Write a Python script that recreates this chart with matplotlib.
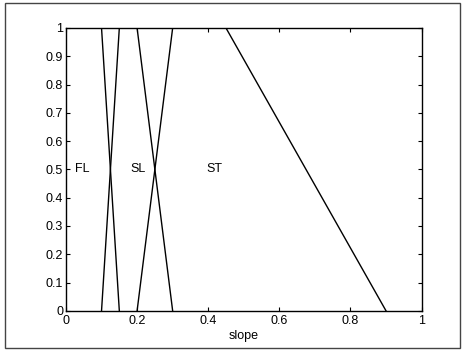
import matplotlib
matplotlib.use("Agg")
import matplotlib.pyplot as plt
from matplotlib.patches import Rectangle
import numpy as np

# membership functions (breakpoints)
fl_x = [0.0, 0.1, 0.15]
fl_y = [1, 1, 0]
sl_x = [0.1, 0.15, 0.2, 0.3]
sl_y = [0, 1, 1, 0]
st_x = [0.2, 0.3, 0.45, 0.9]
st_y = [0, 1, 1, 0]

labels = ["FL", "SL", "ST"]
label_x = [0.025, 0.18, 0.395]
label_y = [0.5, 0.5, 0.5]

plt.rcParams['font.family'] = ['Liberation Sans', 'DejaVu Sans']

fig = plt.figure(figsize=(4.63, 3.5), dpi=100)
ax = fig.add_axes([0.1425, 0.112, 0.768, 0.808])

for xs, ys in [(fl_x, fl_y), (sl_x, sl_y), (st_x, st_y)]:
    ax.plot(xs, ys, color='black', linewidth=1.0)

for t, x, y in zip(labels, label_x, label_y):
    ax.text(x, y, t, ha='left', va='center', fontsize=9)

ax.set_xlim(0, 1)
ax.set_ylim(0, 1)
ax.set_xticks(np.arange(0, 1.01, 0.2))
ax.set_xticklabels(['0', '0.2', '0.4', '0.6', '0.8', '1'])
ax.set_yticks(np.arange(0, 1.01, 0.1))
ax.set_yticklabels(['0', '0.1', '0.2', '0.3', '0.4', '0.5', '0.6', '0.7', '0.8', '0.9', '1'])
ax.tick_params(direction='in', length=3, labelsize=9, pad=2, top=True, right=True)
ax.tick_params(axis='x', pad=3)
ax.set_xlabel('slope', fontsize=9, labelpad=2)
for s in ax.spines.values():
    s.set_linewidth(1.0)

# outer frame
fig.patches.append(Rectangle((5 / 463, 2 / 350), 455 / 463, 345 / 350,
                             transform=fig.transFigure, fill=False,
                             edgecolor='#444444', linewidth=1.0))

plt.savefig('out.png', dpi=100)
